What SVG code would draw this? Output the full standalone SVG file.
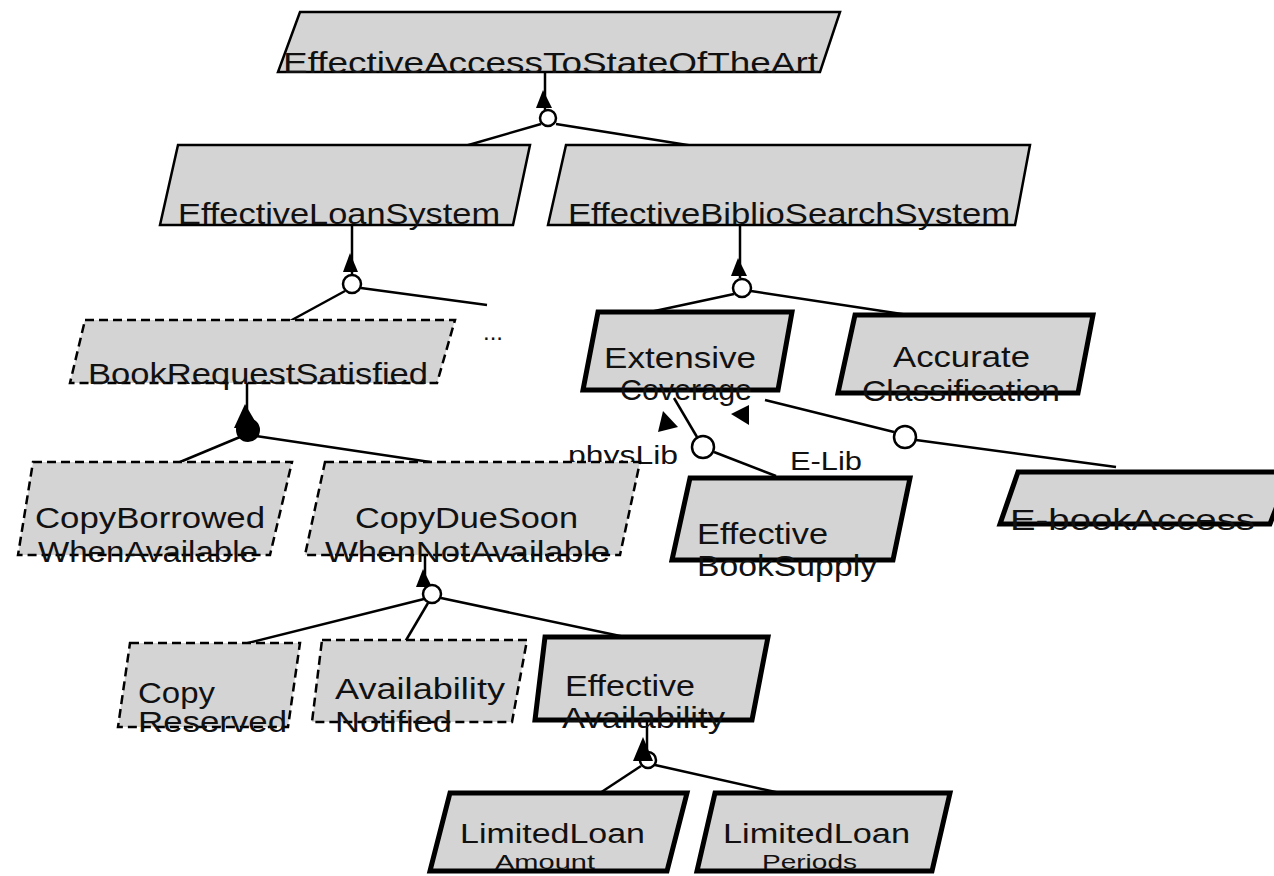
<svg xmlns="http://www.w3.org/2000/svg" width="1274" height="876" viewBox="0 0 1274 876">
<style>
.goal{fill:#d4d4d4;stroke:#000;stroke-width:2.5;stroke-linejoin:miter}
.dash{stroke-dasharray:9 5}
.thick{stroke-width:5}
text{font-family:"Liberation Sans",Arial,sans-serif;font-size:29px;fill:#111}
.lbl{font-size:25px}
.ln{stroke:#000;stroke-width:2.5;fill:none}
.jc{fill:#fff;stroke:#000;stroke-width:2.5}
.jf{fill:#000;stroke:#000;stroke-width:2}
.ah{fill:#000}
</style>
<rect width="1274" height="876" fill="#fff"/>
<g id="connectors">
  <!-- root refinement -->
  <line class="ln" x1="545" y1="72" x2="545" y2="110"/>
  <polygon class="ah" points="543,90 536,108 552,108"/>
  <line class="ln" x1="541" y1="124" x2="465" y2="146"/>
  <line class="ln" x1="556" y1="124" x2="700" y2="147"/>
  <circle class="jc" cx="548" cy="118" r="8"/>
  <!-- loan system refinement -->
  <line class="ln" x1="352" y1="225" x2="352" y2="276"/>
  <polygon class="ah" points="350,253 343,272 358,272"/>
  <line class="ln" x1="345" y1="291" x2="290" y2="321"/>
  <line class="ln" x1="361" y1="288" x2="487" y2="305"/>
  <circle class="jc" cx="352" cy="284" r="9"/>
  <!-- biblio search refinement -->
  <line class="ln" x1="740" y1="225" x2="740" y2="278"/>
  <polygon class="ah" points="738,258 731,276 747,276"/>
  <line class="ln" x1="734" y1="294" x2="650" y2="312"/>
  <line class="ln" x1="751" y1="291" x2="915" y2="316"/>
  <circle class="jc" cx="742" cy="288" r="9"/>
  <!-- book request AND refinement -->
  <line class="ln" x1="247" y1="383" x2="247" y2="420"/>
  <polygon class="ah" points="245,404 234,428 259,428"/>
  <line class="ln" x1="240" y1="437" x2="180" y2="462"/>
  <line class="ln" x1="256" y1="436" x2="430" y2="462"/>
  <circle class="jf" cx="248" cy="430" r="11"/>
  <!-- contribution physLib -->
  <line class="ln" x1="674" y1="398" x2="697" y2="437"/>
  <polygon class="ah" points="663,411 658,432 678,427"/>
  <line class="ln" x1="714" y1="452" x2="776" y2="476"/>
  <circle class="jc" cx="703" cy="447" r="11"/>
  <text class="lbl" x="568" y="464" textLength="110" lengthAdjust="spacingAndGlyphs">physLib</text>
  <!-- contribution E-Lib -->
  <line class="ln" x1="765" y1="400" x2="894" y2="432"/>
  <polygon class="ah" points="731,414 749,405 749,425"/>
  <line class="ln" x1="916" y1="440" x2="1116" y2="467"/>
  <circle class="jc" cx="905" cy="437" r="11"/>
  <text class="lbl" x="790" y="470" textLength="72" lengthAdjust="spacingAndGlyphs">E-Lib</text>
  <!-- CopyDueSoon refinement -->
  <line class="ln" x1="425" y1="555" x2="425" y2="586"/>
  <polygon class="ah" points="423,569 416,587 432,587"/>
  <line class="ln" x1="424" y1="599" x2="240" y2="645"/>
  <line class="ln" x1="428" y1="603" x2="405" y2="642"/>
  <line class="ln" x1="441" y1="598" x2="625" y2="637"/>
  <circle class="jc" cx="432" cy="594" r="9"/>
  <!-- EffectiveAvailability refinement -->
  <line class="ln" x1="647" y1="722" x2="647" y2="752"/>
  <line class="ln" x1="641" y1="766" x2="600" y2="793"/>
  <line class="ln" x1="655" y1="765" x2="780" y2="793"/>
  <circle class="jc" cx="648" cy="760" r="8"/>
  <polygon class="ah" points="643,737 633,761 653,761"/>
</g>
<g id="n-root">
  <polygon class="goal" points="300,12 840,12 820,72 278,72"/>
  <text x="283" y="73" textLength="535" lengthAdjust="spacingAndGlyphs">EffectiveAccessToStateOfTheArt</text>
</g>
<g id="n-loan">
  <polygon class="goal" points="178,145 530,145 513,225 160,225"/>
  <text x="178" y="224" textLength="322" lengthAdjust="spacingAndGlyphs">EffectiveLoanSystem</text>
</g>
<g id="n-biblio">
  <polygon class="goal" points="566,145 1030,145 1015,225 548,225"/>
  <text x="568" y="224" textLength="442" lengthAdjust="spacingAndGlyphs">EffectiveBiblioSearchSystem</text>
</g>
<g id="n-bookrequest">
  <polygon class="goal dash" points="85,320 455,320 437,383 70,383"/>
  <text x="88" y="384" textLength="340" lengthAdjust="spacingAndGlyphs">BookRequestSatisfied</text>
</g>
<text id="ellipsis" x="483" y="340" style="font-size:24px">...</text>
<g id="n-extensive">
  <polygon class="goal thick" points="598,312 792,312 778,390 583,390"/>
  <text x="604" y="368" textLength="152" lengthAdjust="spacingAndGlyphs">Extensive</text>
  <text x="620" y="400" textLength="132" lengthAdjust="spacingAndGlyphs">Coverage</text>
</g>
<g id="n-accurate">
  <polygon class="goal thick" points="855,315 1093,315 1078,393 838,393"/>
  <text x="893" y="367" textLength="137" lengthAdjust="spacingAndGlyphs">Accurate</text>
  <text x="862" y="401" textLength="198" lengthAdjust="spacingAndGlyphs">Classification</text>
</g>
<g id="n-copyborrowed">
  <polygon class="goal dash" points="33,462 292,462 270,555 18,555"/>
  <text x="35" y="528" textLength="230" lengthAdjust="spacingAndGlyphs">CopyBorrowed</text>
  <text x="38" y="562" textLength="220" lengthAdjust="spacingAndGlyphs">WhenAvailable</text>
</g>
<g id="n-copyduesoon">
  <polygon class="goal dash" points="325,462 640,462 620,555 305,555"/>
  <text x="355" y="528" textLength="223" lengthAdjust="spacingAndGlyphs">CopyDueSoon</text>
  <text x="325" y="562" textLength="285" lengthAdjust="spacingAndGlyphs">WhenNotAvailable</text>
</g>
<g id="n-booksupply">
  <polygon class="goal thick" points="690,478 910,478 893,560 672,560"/>
  <text x="697" y="544" textLength="131" lengthAdjust="spacingAndGlyphs">Effective</text>
  <text x="697" y="576" textLength="180" lengthAdjust="spacingAndGlyphs">BookSupply</text>
</g>
<g id="n-ebook">
  <polygon class="goal thick" points="1018,472 1290,472 1270,524 1000,524"/>
  <text x="1010" y="530" textLength="245" lengthAdjust="spacingAndGlyphs">E-bookAccess</text>
</g>
<g id="n-copyreserved">
  <polygon class="goal dash" points="130,643 300,643 288,727 118,727"/>
  <text x="138" y="703" textLength="77" lengthAdjust="spacingAndGlyphs">Copy</text>
  <text x="138" y="732" textLength="149" lengthAdjust="spacingAndGlyphs">Reserved</text>
</g>
<g id="n-availnotified">
  <polygon class="goal dash" points="322,640 527,640 512,722 312,722"/>
  <text x="335" y="699" textLength="170" lengthAdjust="spacingAndGlyphs">Availability</text>
  <text x="335" y="732" textLength="117" lengthAdjust="spacingAndGlyphs">Notified</text>
</g>
<g id="n-effavail">
  <polygon class="goal thick" points="545,637 768,637 752,720 535,720"/>
  <text x="565" y="696" textLength="130" lengthAdjust="spacingAndGlyphs">Effective</text>
  <text x="562" y="728" textLength="163" lengthAdjust="spacingAndGlyphs">Availability</text>
</g>
<g id="n-loanamount">
  <polygon class="goal thick" points="450,793 687,793 667,871 430,871"/>
  <text x="460" y="843" style="font-size:27px" textLength="185" lengthAdjust="spacingAndGlyphs">LimitedLoan</text>
  <text x="495" y="869" style="font-size:21px" textLength="100" lengthAdjust="spacingAndGlyphs">Amount</text>
</g>
<g id="n-loanperiods">
  <polygon class="goal thick" points="715,793 950,793 932,871 697,871"/>
  <text x="723" y="843" style="font-size:27px" textLength="187" lengthAdjust="spacingAndGlyphs">LimitedLoan</text>
  <text x="762" y="869" style="font-size:21px" textLength="95" lengthAdjust="spacingAndGlyphs">Periods</text>
</g>
</svg>
